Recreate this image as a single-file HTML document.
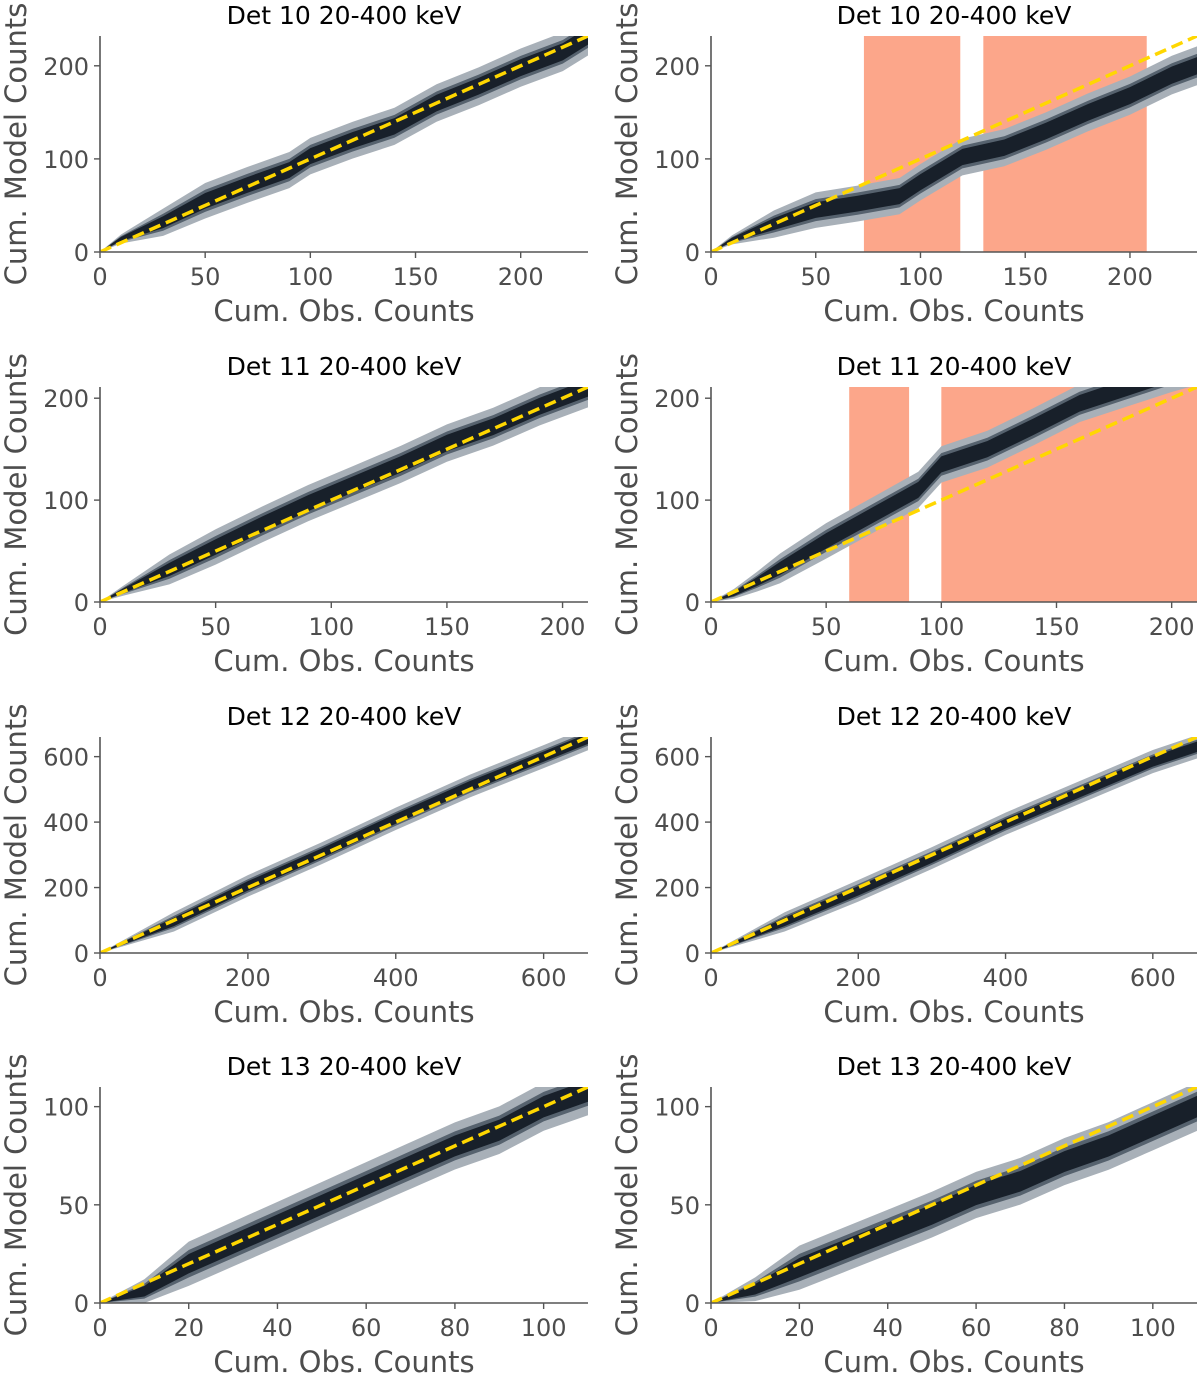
<!DOCTYPE html>
<html><head><meta charset="utf-8"><style>
body{margin:0;background:#fff}
svg{display:block;font-family:"DejaVu Sans","Liberation Sans",sans-serif}
</style></head><body>
<svg id="fig" width="1200" height="1375" viewBox="0 0 1200 1375"></svg>
<script>
// ---- data per panel ----
const p1x=[0,10,30,50,70,90,100,120,140,160,180,200,220,232];
const p1med=[0,14,32,55,72,88,103,120,135,160,178,198,215,232];
const p2x=[0,10,30,50,70,90,100,120,140,160,180,200,220,232];
const p2med=[0,13,30,45,52,60,75,102,112,130,150,168,190,200];
const p3x=[0,10,30,50,70,90,110,130,150,170,190,211];
const p3med=[0,11,32,54,76,97,116,135,156,172,192,210];
const p4x=[0,10,20,30,50,70,90,100,120,140,160,180,200,211];
const p4med=[0,8,20,33,60,85,110,135,150,172,195,210,225,232];
const p5x=[0,100,200,300,400,450,500,600,660];
const p5med=[0,95,205,305,410,460,510,600,655];
const p6x=[0,100,200,300,400,500,600,660];
const p6med=[0,95,190,290,395,490,585,630];
const p7x=[0,10,20,30,40,50,60,70,80,90,100,110];
const p7med=[0,6,20,30,40,50,60,70,80,88,100,108];
const p8x=[0,10,20,30,40,50,60,70,80,90,100,110];
const p8med=[0,7,18,27,36,45,55,62,72,80,90,100];
// band half-widths (fraction of axis range)
const innerFrac=[0.035,0.04];
const midFrac=[0.05,0.055];
const outerFrac=[0.08,0.09];
const bandScale=[1,1,1,1,0.6,0.6,1.25,1.25];
// red (excluded) intervals
const p2spans=[[73,119],[130,208]];
const p4spans=[[60,86],[100,212]];
const titles=["Det 10 20-400 keV","Det 10 20-400 keV","Det 11 20-400 keV","Det 11 20-400 keV","Det 12 20-400 keV","Det 12 20-400 keV","Det 13 20-400 keV","Det 13 20-400 keV"];
const maxes=[232,232,211,211,660,660,110,110];
const ticks=[[0,50,100,150,200],[0,50,100,150,200],[0,50,100,150,200],[0,50,100,150,200],[0,200,400,600],[0,200,400,600],[0,20,40,60,80,100],[0,20,40,60,80,100]];
const yticks=[[0,100,200],[0,100,200],[0,100,200],[0,100,200],[0,200,400,600],[0,200,400,600],[0,50,100],[0,50,100]];
const xsArr=[p1x,p2x,p3x,p4x,p5x,p6x,p7x,p8x];
const medArr=[p1med,p2med,p3med,p4med,p5med,p6med,p7med,p8med];
const spansArr=[[],p2spans,[],p4spans,[],[],[],[]];

const NS="http://www.w3.org/2000/svg";
const svg=document.getElementById('fig');
function mk(tag,attrs,parent){const e=document.createElementNS(NS,tag);for(const k in attrs)e.setAttribute(k,attrs[k]);(parent||svg).appendChild(e);return e;}
const cols=[[100,588],[711,1197]];
const rows=[[36,252],[387,602],[737,953],[1087,1303]];
for(let i=0;i<8;i++){
  const c=cols[i%2], r=rows[Math.floor(i/2)], M=maxes[i];
  const X=v=>c[0]+(c[1]-c[0])*v/M;
  const Y=v=>r[1]-(r[1]-r[0])*v/M;
  const g=mk('g',{});
  
  
  const cp=mk('clipPath',{id:'cp'+i},g);
  mk('rect',{x:c[0],y:r[0],width:c[1]-c[0],height:r[1]-r[0]},cp);
  const pg=mk('g',{'clip-path':'url(#cp'+i+')'},g);
  spansArr[i].forEach(s=>{
    const e=mk('rect',{x:X(s[0]),y:r[0],width:X(s[1])-X(s[0]),height:r[1]-r[0],fill:'#fca68a'},pg);
    
    
  });
  const xs=xsArr[i], md=medArr[i], bs=bandScale[i];
  const band=(fr,col,name)=>{
    let up=[],dn=[];
    xs.forEach((x,k)=>{const t=x/M;const w=bs*M*(fr[0]+(fr[1]-fr[0])*t)*Math.min(1,t*6);
      up.push(X(x)+','+Y(md[k]+w));dn.unshift(X(x)+','+Y(Math.max(0,md[k]-w)));});
    const e=mk('polygon',{points:up.concat(dn).join(' '),fill:col},pg);
    
    
  };
  band(outerFrac,'#a8b0b8','outer-band');
  band(midFrac,'#56626e','middle-band');
  band(innerFrac,'#18202a','inner-band');
  const dl=mk('line',{x1:X(0),y1:Y(0),x2:X(M),y2:Y(M),stroke:'#ffd700','stroke-width':3.5,'stroke-dasharray':'12,6'},pg);
  
  
  // axes
  const ax=mk('path',{d:`M${c[0]},${r[0]}V${r[1]}H${c[1]}`,stroke:'#555',fill:'none','stroke-width':1.6},g);
  
  
  ticks[i].forEach(t=>{
    mk('line',{x1:X(t),x2:X(t),y1:r[1],y2:r[1]+6,stroke:'#555','stroke-width':1.4},g);
    const e=mk('text',{x:X(t),y:r[1]+33,'text-anchor':'middle','font-size':24,fill:'#4d4d4d'},g);
    e.textContent=t;
    
    
  });
  yticks[i].forEach(t=>{
    mk('line',{x1:c[0]-6,x2:c[0],y1:Y(t),y2:Y(t),stroke:'#555','stroke-width':1.4},g);
    const e=mk('text',{x:c[0]-11,y:Y(t)+9,'text-anchor':'end','font-size':24,fill:'#4d4d4d'},g);
    e.textContent=t;
    
    
  });
  const tt=mk('text',{x:(c[0]+c[1])/2,y:r[0]-12,'text-anchor':'middle','font-size':25,fill:'#000'},g);
  tt.textContent=titles[i];
  
  
  const xl=mk('text',{x:(c[0]+c[1])/2,y:r[1]+69,'text-anchor':'middle','font-size':29,fill:'#4d4d4d'},g);
  xl.textContent='Cum. Obs. Counts';
  
  
  const yx=c[0]-74, yc=(r[0]+r[1])/2;
  const yl=mk('text',{x:yx,y:yc,'text-anchor':'middle','font-size':29,fill:'#4d4d4d',transform:`rotate(-90 ${yx} ${yc})`},g);
  yl.textContent='Cum. Model Counts';
  
  
}
</script>
</body></html>
